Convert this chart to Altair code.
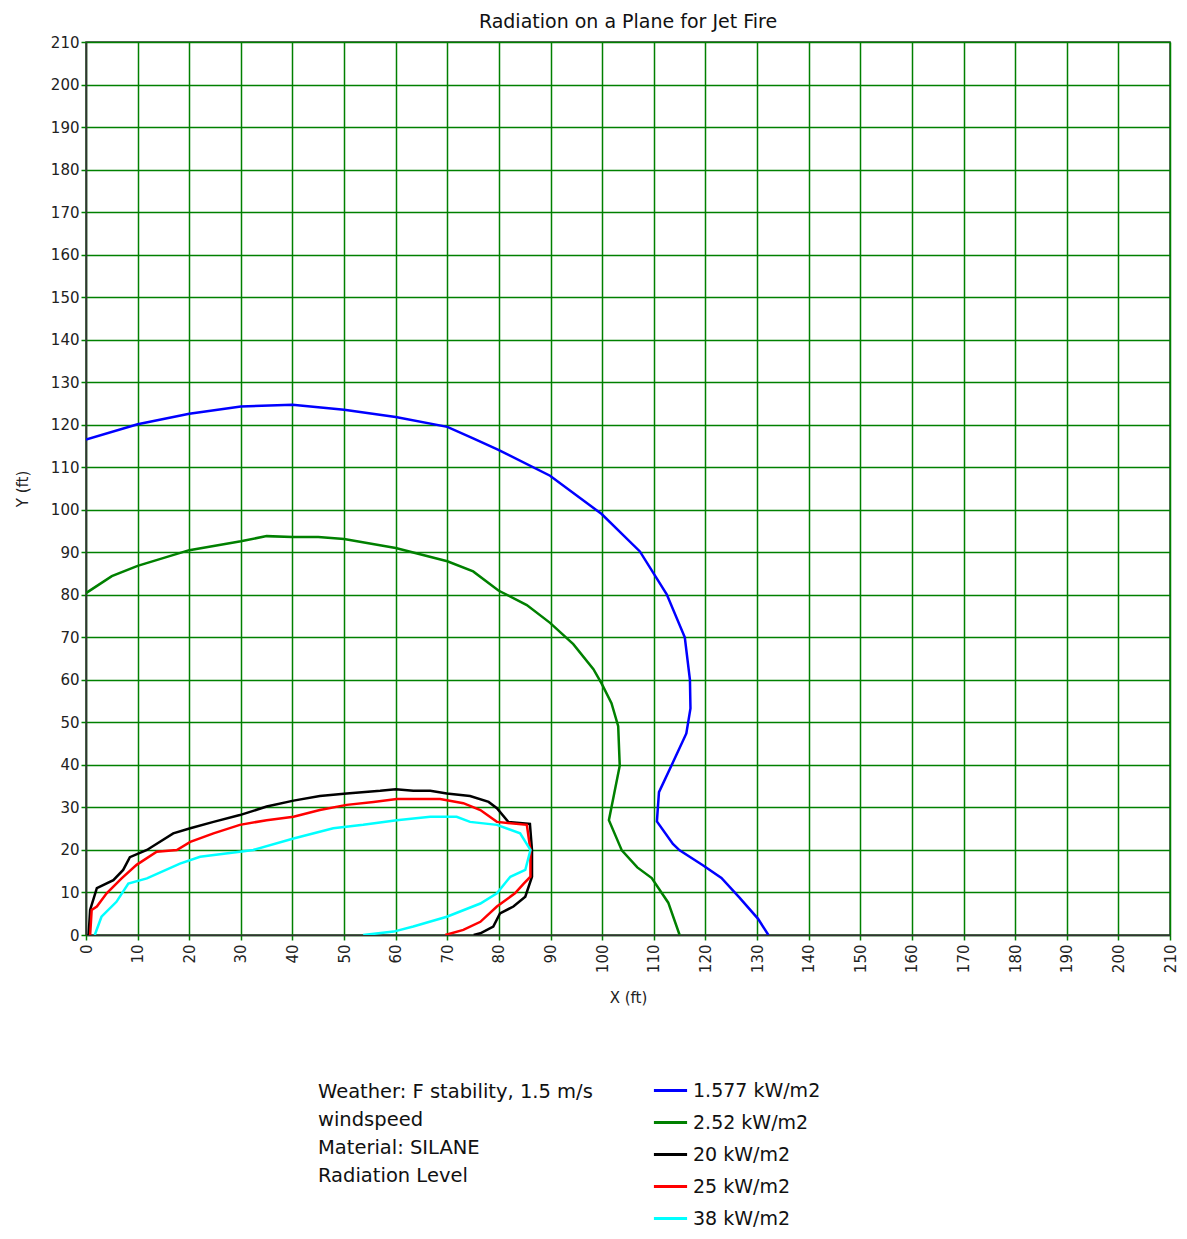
import altair as alt
import pandas as pd

# ---- data ----
blue_x = [0, 10, 20, 30, 40, 50, 60, 70, 75, 79.9, 89.9, 99.9, 107.3, 112.5, 116.0, 117.0, 117.1, 116.3, 113.4, 111.0, 110.6, 113.7, 115.0, 119.5, 123.1, 126.6, 130.2, 132.2]
blue_y = [116.5, 120.1, 122.6, 124.3, 124.7, 123.5, 121.8, 119.5, 116.8, 114.1, 108.0, 99.0, 90.2, 80.1, 70.0, 60.0, 53.3, 47.4, 39.8, 33.6, 26.7, 21.4, 19.9, 16.4, 13.4, 8.8, 3.8, 0]

green_x = [0, 5, 10, 20, 30, 35, 40, 45, 50, 60, 70, 75, 79.9, 85.4, 89.9, 94.4, 98.3, 99.9, 101.8, 103.1, 103.4, 102.3, 101.3, 103.8, 106.8, 109.6, 112.8, 115.0]
green_y = [80.4, 84.4, 86.8, 90.5, 92.6, 93.8, 93.6, 93.6, 93.1, 91.0, 87.9, 85.5, 81.0, 77.6, 73.4, 68.4, 62.5, 59.1, 54.5, 49.1, 39.8, 33.1, 27.0, 19.9, 15.9, 13.4, 7.6, 0]

black_x = [0.5, 0.8, 2.1, 5.3, 7.2, 8.5, 11.8, 16.9, 20.2, 24.7, 29.8, 35.0, 40.2, 45.3, 50.5, 57.0, 60.0, 63.4, 66.7, 69.9, 74.4, 78.0, 79.6, 81.8, 86.0, 86.4, 86.4, 85.1, 82.8, 80.2, 78.9, 76.4, 75.1]
black_y = [0, 5.9, 11.0, 12.9, 15.3, 18.3, 20.0, 23.9, 25.1, 26.6, 28.2, 30.2, 31.6, 32.7, 33.3, 33.9, 34.3, 33.9, 33.9, 33.3, 32.7, 31.3, 29.8, 26.6, 26.1, 20.0, 13.7, 9.0, 6.7, 5.1, 2.0, 0.4, 0]

red_x = [0.8, 1.1, 2.1, 4.0, 6.9, 9.8, 13.7, 17.6, 20.2, 24.7, 29.8, 35.0, 40.2, 45.3, 50.5, 55.7, 60.2, 68.6, 73.1, 76.4, 79.6, 85.4, 86.1, 86.1, 84.8, 83.1, 79.6, 76.4, 73.1, 69.6]
red_y = [0, 5.9, 6.7, 9.8, 13.3, 16.5, 19.6, 20.0, 21.9, 23.9, 25.9, 27.0, 27.8, 29.4, 30.6, 31.3, 32.0, 32.0, 31.0, 29.4, 26.6, 25.9, 20.0, 13.7, 12.1, 9.8, 6.7, 3.1, 1.2, 0]

cyan_x = [1.7, 3.0, 5.9, 8.2, 11.8, 18.2, 22.1, 29.8, 32.4, 40.2, 47.9, 53.7, 60.2, 66.7, 71.8, 74.4, 79.6, 84.1, 86.1, 85.1, 82.2, 79.6, 76.4, 69.9, 63.4, 59.6, 53.7]
cyan_y = [0, 4.3, 7.8, 12.1, 13.3, 16.8, 18.4, 19.6, 20.0, 22.7, 25.1, 25.9, 27.0, 27.8, 27.8, 26.6, 25.9, 23.9, 20.0, 15.3, 13.7, 9.8, 7.4, 4.3, 2.0, 0.8, 0]

levels = ["1.577 kW/m2", "2.52 kW/m2", "20 kW/m2", "25 kW/m2", "38 kW/m2"]
colors = ["#0000FF", "#008000", "#000000", "#FF0000", "#00FFFF"]
ticks = list(range(0, 211, 10))
info_text = "Weather: F stability, 1.5 m/s\nwindspeed\nMaterial: SILANE\nRadiation Level"

rows = []
for lvl, xs, ys in zip(levels,
                       [blue_x, green_x, black_x, red_x, cyan_x],
                       [blue_y, green_y, black_y, red_y, cyan_y]):
    for i, (xv, yv) in enumerate(zip(xs, ys)):
        rows.append({"level": lvl, "x": xv, "y": yv, "i": i})
df = pd.DataFrame(rows)

FONT = "DejaVu Sans"

lines = alt.Chart(df).mark_line(strokeWidth=2.5, clip=True).encode(
    x=alt.X("x:Q", scale=alt.Scale(domain=[0, 210], nice=False),
            axis=alt.Axis(values=ticks, title="X (ft)", labelAngle=270,
                          labelAlign="right", labelBaseline="middle",
                          labelPadding=4, titlePadding=18)),
    y=alt.Y("y:Q", scale=alt.Scale(domain=[0, 210], nice=False),
            axis=alt.Axis(values=ticks, title="Y (ft)", titlePadding=20)),
    color=alt.Color("level:N", scale=alt.Scale(domain=levels, range=colors),
                    legend=alt.Legend(title=None, orient="none", legendX=566, legendY=1030,
                                      symbolType="stroke", symbolSize=1100,
                                      symbolStrokeWidth=3, labelFontSize=19,
                                      labelFont=FONT, labelColor="#111",
                                      rowPadding=3, labelOffset=4)),
    order=alt.Order("i:Q"),
    detail="level:N",
)

info = alt.Chart(pd.DataFrame({"t": [info_text]})).mark_text(
    align="left", baseline="top", lineBreak="\n", fontSize=19.5, font=FONT,
    color="#111", lineHeight=28,
).encode(text="t:N", x=alt.value(232), y=alt.value(1041))

chart = alt.layer(lines, info).properties(
    width=1084, height=893,
    title=alt.TitleParams("Radiation on a Plane for Jet Fire", fontSize=19,
                          font=FONT, fontWeight="normal", color="#111", offset=3),
    autosize=alt.AutoSizeParams(type="none"),
    padding={"left": 78, "top": 34, "right": 9, "bottom": 296},
).configure_axis(
    grid=True, gridColor="#008000", gridWidth=1.5, gridOpacity=1,
    tickColor="#008000", tickSize=5, tickWidth=1.5,
    domainColor="#333", domainWidth=1.5,
    labelFont=FONT, labelFontSize=15, labelColor="#222",
    titleFont=FONT, titleFontSize=15, titleFontWeight="normal", titleColor="#222",
).configure_view(stroke="#333", strokeWidth=1.5)

chart.save("out.html", embed_options={"renderer": "svg", "actions": False})
